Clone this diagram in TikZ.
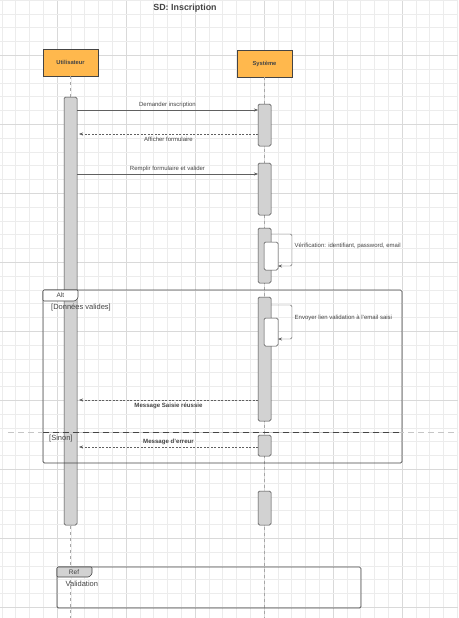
\documentclass[tikz,border=0pt]{standalone}
\usepackage{fontspec}
\setmainfont{Liberation Sans}
\usetikzlibrary{arrows.meta, positioning}

\definecolor{actorfill}{HTML}{FFB84D}
\definecolor{inkgray}{HTML}{444444}
\definecolor{barfill}{HTML}{D2D2D2}

\begin{document}
\begin{tikzpicture}[
    x=1pt, y=-1pt,
    actor/.style={
        rectangle,
        draw=inkgray,
        fill=actorfill,
        line width=0.6pt,
        minimum width=55pt,
        minimum height=27pt,
        inner sep=0pt,
        outer sep=0pt,
        anchor=north west,
        font=\fontsize{5.8}{7}\selectfont\bfseries,
        text=inkgray
    },
    bar/.style={
        rectangle,
        draw=inkgray,
        fill=barfill,
        line width=0.5pt,
        rounded corners=1.5pt,
        minimum width=13pt,
        inner sep=0pt,
        outer sep=0pt,
        anchor=north west
    },
    innerbar/.style={
        bar,
        fill=white,
        minimum width=14pt
    },
    frame/.style={
        rectangle,
        draw=inkgray,
        line width=0.7pt,
        rounded corners=1.5pt,
        inner sep=0pt,
        outer sep=0pt,
        anchor=north west
    },
    lifeline/.style={
        draw=gray!70,
        dashed,
        line width=0.4pt
    },
    link/.style={
        -{Stealth[length=4pt, width=3pt]},
        draw=gray!75!black,
        line width=0.4pt
    },
    reply/.style={
        link,
        dash pattern=on 2pt off 1.5pt
    },
    msg/.style={
        font=\fontsize{6}{7}\selectfont,
        text=inkgray,
        inner sep=0pt
    },
    boldmsg/.style={
        msg,
        font=\fontsize{6.1}{7}\selectfont\bfseries
    },
    over/.style={anchor=south, yshift=2.5pt},
    under/.style={anchor=north, yshift=-3pt},
    guard/.style={
        font=\fontsize{7.5}{9}\selectfont,
        text=inkgray,
        inner sep=0pt,
        anchor=west
    }
]

    % BACKGROUND GRID
    \useasboundingbox (0,0) rectangle (458,618);
    \fill[white] (0,0) rectangle (458,618);
    \foreach \i in {0,...,33} {
        \pgfmathtruncatemacro{\major}{mod(\i,5)==4}
        \ifnum\major=1
            \draw[gray!30, line width=0.5pt] (1.8+13.8*\i,0) -- ++(0,618);
        \else
            \draw[gray!15, line width=0.4pt] (1.8+13.8*\i,0) -- ++(0,618);
        \fi
    }
    \foreach \j in {0,...,44} {
        \pgfmathtruncatemacro{\major}{mod(\j,5)==4}
        \ifnum\major=1
            \draw[gray!30, line width=0.5pt] (0,13.8*\j) -- ++(458,0);
        \else
            \draw[gray!15, line width=0.4pt] (0,13.8*\j) -- ++(458,0);
        \fi
    }

    % TITLE
    \node[font=\fontsize{8.9}{10}\selectfont\bfseries, text=inkgray] (title) at (185,8) {SD: Inscription};

    % ACTORS AND LIFELINES
    \node[actor] (user) at (43,49) {Utilisateur};
    \node[actor] (sys) at (237,50) {Système};
    \coordinate (bottom) at (0,618);
    \draw[lifeline] (user.south) -- (user.south |- bottom);
    \draw[lifeline] (sys.south) -- (sys.south |- bottom);

    % ACTIVATION BARS
    \node[bar, minimum height=428pt] (ubar) at (64,97) {};
    \node[bar, minimum height=42pt] (s1) at (258,104) {};
    \node[bar, minimum height=52pt] (s2) at (258,163) {};
    \node[bar, minimum height=55pt] (s3) at (258,228) {};
    \node[innerbar, minimum height=28pt] (s3in) at (264,242) {};
    \node[bar, minimum height=124pt] (s4) at (258,297) {};
    \node[innerbar, minimum height=28pt] (s4in) at (264,318) {};
    \node[bar, minimum height=21pt] (s5) at (258,435) {};
    \node[bar, minimum height=34pt] (s6) at (258,491) {};

    % MESSAGE LEVELS
    \coordinate (dem) at (0,110);
    \coordinate (aff) at (0,134);
    \coordinate (rem) at (0,174);
    \coordinate (vtop) at (0,234);
    \coordinate (vbot) at (0,266);
    \coordinate (etop) at (0,305);
    \coordinate (ebot) at (0,339);
    \coordinate (ok) at (0,400);
    \coordinate (err) at (0,447);

    % MESSAGES
    \draw[link] (ubar.east |- dem) -- (s1.west |- dem) node[midway, msg, over] {Demander inscription};
    \draw[reply] (s1.west |- aff) -- ([xshift=2pt]ubar.east |- aff) node[midway, msg, under] {Afficher formulaire};
    \draw[link] (ubar.east |- rem) -- (s2.west |- rem) node[midway, msg, over] {Remplir formulaire et valider};

    % SELF CALLS
    \draw[link, rounded corners=1.5pt] (s3.east |- vtop) -- ++(21,0) |- (s3in.east |- vbot);
    \node[msg, anchor=west] (vlabel) at (294.5,246) {Vérification: identifiant, password, email};
    \draw[link, rounded corners=1.5pt] (s4.east |- etop) -- ++(21,0) |- (s4in.east |- ebot);
    \node[msg, anchor=west] (elabel) at (294.5,318) {Envoyer lien validation à l'email saisi};

    % ALT FRAGMENT
    \node[frame, minimum width=359pt, minimum height=173pt] (alt) at (43,290) {};
    \draw[draw=inkgray, fill=white, line width=0.6pt, rounded corners=1pt] (alt.north west) -- ++(0,11) -- ++(32,0) -- ++(3,-3) -- ++(0,-8) -- cycle;
    \node[msg, font=\fontsize{6.5}{7.5}\selectfont] (alttag) at (60.5,295.5) {Alt};
    \node[guard] (valid) at (51,308) {[Données valides]};
    \draw[reply] (s4.west |- ok) -- ([xshift=2pt]ubar.east |- ok) node[midway, boldmsg, under] {Message Saisie réussie};
    \draw[gray!45, line width=0.9pt, dash pattern=on 6pt off 4pt] (8,432) -- (458,432);
    \draw[inkgray, line width=0.8pt, dash pattern=on 6pt off 4pt] (alt.west |- 0,432) -- (alt.east |- 0,432);
    \node[guard] (sinon) at (49,439) {[Sinon]};
    \draw[reply] (s5.west |- err) -- ([xshift=2pt]ubar.east |- err) node[midway, boldmsg, over] {Message d'erreur};

    % REF FRAGMENT
    \node[frame, minimum width=304pt, minimum height=41pt] (ref) at (57,567) {};
    \draw[draw=inkgray, fill=barfill, line width=0.6pt, rounded corners=1pt] (ref.north west) -- ++(0,10) -- ++(32,0) -- ++(3,-3) -- ++(0,-7) -- cycle;
    \node[msg, font=\fontsize{6.5}{7.5}\selectfont] (reftag) at (74,572) {Ref};
    \node[guard] (refname) at (65.5,584) {Validation};

\end{tikzpicture}
\end{document}
